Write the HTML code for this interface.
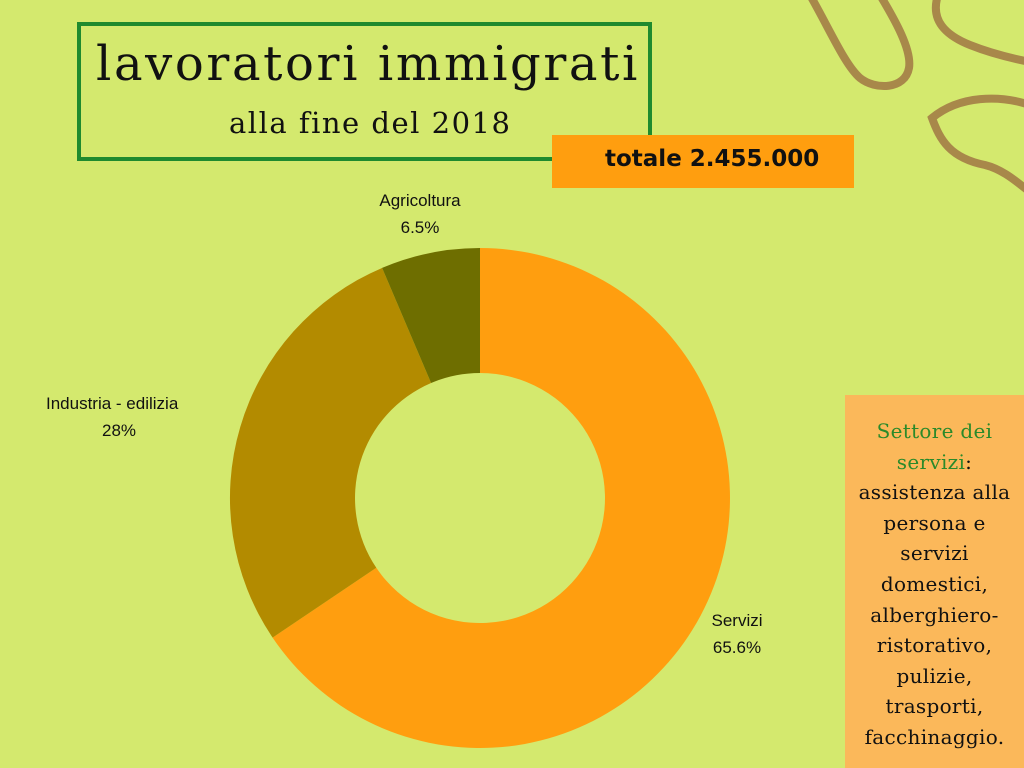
<!DOCTYPE html>
<html><head><meta charset="utf-8"><style>
body{margin:0;width:1024px;height:768px;background:#d4e96e;position:relative;overflow:hidden;font-family:"Liberation Sans",sans-serif}
.t{position:absolute;color:#111}
</style></head><body>
<svg width="1024" height="768" style="position:absolute;left:0;top:0">
<g fill="none" stroke="#a8884a" stroke-width="8" stroke-linecap="round">
<path d="M810,-5 C830,30 845,65 860,78 C875,90 905,90 909,68 C912,50 895,20 880,-5"/>
<path d="M938,-5 C930,20 945,35 970,45 C990,53 1010,58 1030,62"/>
<path d="M1030,105 C1000,95 960,95 932,118 C940,140 950,158 985,165 C1005,170 1020,185 1030,192"/>
</g>
<rect x="79" y="24" width="571" height="135" fill="none" stroke="#1f8a2e" stroke-width="4"/>
<rect x="552" y="135" width="302" height="53" fill="#ff9e0f"/>
<rect x="845" y="395" width="179" height="373" fill="#fbb85a"/>
<path d="M480,248 A250,250 0 1 1 272.6,637.6 L376.3,567.8 A125,125 0 1 0 480,373 Z" fill="#ff9e0f"/>
<path d="M272.6,637.6 A250,250 0 0 1 382.1,267.9 L431.1,383 A125,125 0 0 0 376.3,567.8 Z" fill="#b38b00"/>
<path d="M382.1,267.9 A250,250 0 0 1 480,248 L480,373 A125,125 0 0 0 431.1,383 Z" fill="#6e6e00"/>
</svg>
<div class="t" style="left:78px;top:36px;width:580px;text-align:center;font-family:'DejaVu Serif',serif;font-size:48px;letter-spacing:2.6px;white-space:nowrap">lavoratori immigrati</div>
<div class="t" style="left:229px;top:106px;font-family:'DejaVu Serif',serif;font-size:29px;letter-spacing:1.5px;white-space:nowrap">alla fine del 2018</div>
<div class="t" style="left:605px;top:146px;font-weight:bold;font-family:'DejaVu Sans',sans-serif;font-size:23px;white-space:nowrap">totale 2.455.000</div>
<div class="t" style="left:350px;top:187px;width:140px;text-align:center;font-size:17px;line-height:27px">Agricoltura<br>6.5%</div>
<div class="t" style="left:46px;top:390px;font-size:17px;line-height:27px;white-space:nowrap">Industria - edilizia<br><span style="margin-left:56px">28%</span></div>
<div class="t" style="left:697px;top:607px;width:80px;text-align:center;font-size:17px;line-height:27px">Servizi<br>65.6%</div>
<div class="t" style="left:845px;top:416px;width:179px;text-align:center;font-family:'DejaVu Serif',serif;font-size:20px;line-height:30.6px;white-space:nowrap;letter-spacing:0.3px"><span style="color:#2a8a2a">Settore dei<br>servizi</span>:<br>assistenza alla<br>persona e<br>servizi<br>domestici,<br>alberghiero-<br>ristorativo,<br>pulizie,<br>trasporti,<br>facchinaggio.</div>
</body></html>
